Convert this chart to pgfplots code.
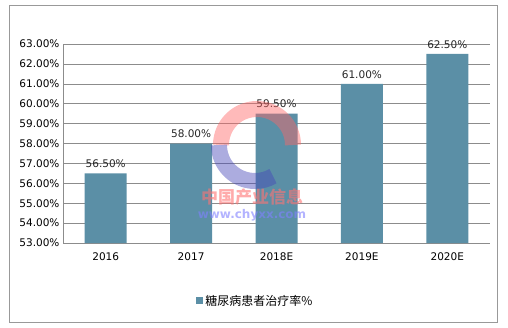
\documentclass[border=0pt]{standalone}
\usepackage{pgfplots}
\pgfplotsset{compat=1.18}
\usepackage{fontspec}
\setmainfont{Noto Sans CJK SC}
\newfontfamily\numfont{DejaVu Sans}
\definecolor{barc}{RGB}{91,143,166}
\definecolor{gridc}{RGB}{140,140,140}
\begin{document}
\begin{tikzpicture}
\path[use as bounding box] (0pt,0pt) rectangle (508pt,327pt);
\draw[gray!80, line width=0.6pt] (9pt,5pt) rectangle (497pt,322pt);
\begin{axis}[
  at={(63pt,84pt)}, anchor=south west,
  scale only axis, width=427pt, height=199pt,
  ymin=53, ymax=63, ytick distance=1,
  xmin=-0.5, xmax=4.5,
  xtick=data, xticklabels={2016,2017,2018E,2019E,2020E},
  ybar, bar width=42pt,
  ymajorgrids, grid style={gridc, line width=0.6pt},
  axis line style={gridc, line width=0.6pt},
  axis x line*=bottom, axis y line*=left,
  x axis line style={-}, y axis line style={-},
  major tick length=0pt,
  /pgf/number format/assume math mode=true,
  yticklabel={\pgfmathprintnumber[fixed,fixed zerofill,precision=2]{\tick}\%},
  yticklabel style={font=\numfont\fontsize{10.5}{11}\selectfont, xshift=0pt},
  xticklabel style={font=\numfont\fontsize{10.5}{11}\selectfont, yshift=-6pt},
  nodes near coords={\pgfmathprintnumber[fixed,fixed zerofill,precision=2]{\pgfplotspointmeta}\%},
  nodes near coords style={font=\numfont\fontsize{10.5}{11}\selectfont, text=black!85, yshift=2pt},
  legend style={at={(0.45,-0.29)}, anchor=center, draw=none, fill=none, font=\fontsize{12}{12}\selectfont},
  legend image code/.code={\fill[barc] (0cm,-0.13cm) rectangle (0.26cm,0.13cm);},
  clip=false,
]
\addplot[fill=barc, draw=none] coordinates {(0,56.5) (1,58.0) (2,59.5) (3,61.0) (4,62.5)};
\addlegendentry{糖尿病患者治疗率\%}
\end{axis}
% watermark
\begin{scope}[opacity=0.45]
\draw[red!60!white, line width=16pt] (293pt,182pt) arc (0:180:36pt);
\draw[blue!45!gray, line width=16pt] (219pt,182pt) arc (180:300:36pt);
\end{scope}
\node[text=red!55!white, opacity=0.6, font=\bfseries\fontsize{17}{17}\selectfont] at (252pt,130pt) {中国产业信息};
\node[text=blue!50!white, opacity=0.6, font=\numfont\bfseries\fontsize{12}{12}\selectfont] at (252pt,112pt) {www.chyxx.com};
\end{tikzpicture}
\end{document}
